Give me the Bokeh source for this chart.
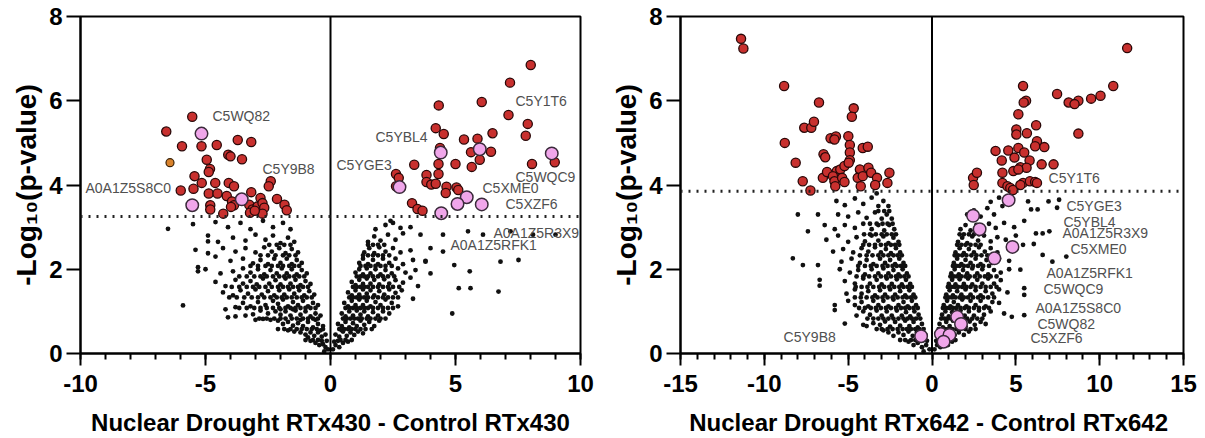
from bokeh.plotting import figure
from bokeh.layouts import row
from bokeh.models import Span, Range1d, FixedTicker
from bokeh.core.properties import value
from bokeh.embed import file_html
from bokeh.resources import INLINE

# ---------------- Panel 1: Nuclear Drought RTx430 - Control RTx430 ----------------
p1_xlabel = "Nuclear Drought RTx430 - Control RTx430"
p1_xticks = [-10, -5, 0, 5, 10]
p1_threshold = 3.25

p1_sig = [(-5.53, 5.62), (-6.57, 5.27), (-5.94, 4.92), (-5.16, 4.92), (-4.55, 4.95), (-3.71, 5.07),
          (-3.17, 5.02), (-4.95, 4.6), (-4.09, 4.72), (-4.0, 4.68), (-3.54, 4.61), (-4.82, 4.38),
          (-4.87, 4.31), (-5.44, 4.21), (-5.15, 4.05), (-4.61, 4.05), (-4.07, 4.05), (-3.86, 3.97),
          (-5.99, 3.87), (-5.48, 3.91), (-4.87, 3.8), (-4.52, 3.8), (-4.15, 3.74), (-3.17, 3.83),
          (-2.39, 4.09), (-2.47, 3.97), (-4.81, 3.52), (-4.81, 3.42), (-4.29, 3.32), (-3.94, 3.61),
          (-3.86, 3.52), (-3.98, 3.48), (-3.25, 3.53), (-3.12, 3.42), (-2.92, 3.49), (-2.8, 3.69),
          (-2.72, 3.57), (-2.65, 3.46), (-2.72, 3.32), (-3.22, 3.34), (-2.14, 3.67), (-1.84, 3.53),
          (-1.75, 3.4), (-3.03, 3.39),
          (8.01, 6.85), (7.18, 6.43), (4.33, 5.89), (6.05, 5.97), (7.12, 5.66), (7.89, 5.45),
          (4.21, 5.35), (4.53, 5.21), (5.34, 5.08), (5.88, 5.1), (6.48, 5.23), (7.81, 5.17),
          (5.62, 4.78), (6.42, 4.79), (4.38, 4.88), (5.97, 4.6), (5.65, 4.43), (5.0, 4.5),
          (4.32, 4.5), (3.35, 4.48), (3.84, 4.24), (4.32, 4.26), (8.06, 4.5), (8.97, 4.54),
          (2.62, 4.26), (2.73, 4.17), (3.84, 4.07), (4.03, 4.01), (4.21, 4.03), (4.64, 3.96),
          (4.61, 3.81), (5.04, 3.94), (5.11, 3.88), (2.62, 3.97), (3.26, 3.57), (3.48, 3.43),
          (3.68, 3.39)]
p1_hl = [(-5.16, 5.22), (-5.53, 3.52), (-3.55, 3.66), (4.41, 4.77), (5.97, 4.85), (8.85, 4.75),
         (2.76, 3.95), (5.45, 3.71), (5.08, 3.55), (6.05, 3.54), (4.43, 3.33)]
p1_other = [(-6.42, 4.53)]
p1_names = ["C5WQ82", "C5Y9B8", "A0A1Z5S8C0", "C5Y1T6", "C5YBL4", "C5YGE3", "C5WQC9",
            "C5XME0", "C5XZF6", "A0A1Z5R3X9", "A0A1Z5RFK1"]
p1_name_x = [-4.72, -2.72, -9.8, 7.4, 1.8, 0.24, 7.4, 6.08, 7.0, 6.52, 4.8]
p1_name_y = [5.63, 4.37, 3.94, 5.99, 5.15, 4.47, 4.18, 3.94, 3.56, 2.87, 2.57]

p1_dots = [
    (-0.1, 0.1), (-0.2, 0.15), (-0.3, 0.22), (-0.45, 0.2), (-0.6, 0.25), (-0.15, 0.3), (-0.35, 0.3), (-0.8, 0.3), (-0.25, 0.05),
    (-0.2, 0.45), (-0.35, 0.4), (-0.5, 0.5), (-0.65, 0.42), (-0.8, 0.5), (-1.0, 0.45), (-1.2, 0.5), (-1.45, 0.52), (-0.9, 0.38), (-0.4, 0.55), (-1.7, 0.55),
    (-0.3, 0.65), (-0.5, 0.7), (-0.7, 0.62), (-0.9, 0.75), (-1.1, 0.65), (-1.3, 0.72), (-1.5, 0.66), (-1.7, 0.75), (-1.9, 0.7), (-2.1, 0.78), (-2.4, 0.8), (-2.7, 0.82), (-3.0, 0.8), (-1.2, 0.8), (-0.6, 0.8),
    (-0.4, 0.9), (-0.6, 0.95), (-0.8, 0.88), (-1.0, 1.0), (-1.2, 0.92), (-1.4, 1.02), (-1.6, 0.9), (-1.8, 1.0), (-2.0, 0.92), (-2.2, 1.0), (-2.5, 0.95), (-2.8, 1.02), (-3.1, 0.93), (-3.4, 0.9), (-3.8, 0.88), (-4.1, 0.86), (-1.5, 1.05),
    (-0.5, 1.15), (-0.7, 1.2), (-0.9, 1.12), (-1.1, 1.25), (-1.3, 1.15), (-1.5, 1.22), (-1.7, 1.12), (-1.9, 1.28), (-2.1, 1.18), (-2.3, 1.25), (-2.6, 1.15), (-2.9, 1.22), (-3.2, 1.12), (-3.5, 1.2), (-3.8, 1.1), (-4.2, 1.05), (-2.0, 1.05),
    (-0.65, 1.4), (-0.85, 1.48), (-1.05, 1.38), (-1.25, 1.5), (-1.45, 1.42), (-1.65, 1.52), (-1.85, 1.4), (-2.05, 1.5), (-2.25, 1.38), (-2.5, 1.48), (-2.75, 1.4), (-3.0, 1.52), (-3.3, 1.42), (-3.6, 1.5), (-3.9, 1.38), (-4.3, 1.45),
    (-0.8, 1.65), (-1.0, 1.72), (-1.2, 1.62), (-1.4, 1.75), (-1.6, 1.66), (-1.8, 1.78), (-2.0, 1.64), (-2.2, 1.74), (-2.45, 1.66), (-2.7, 1.78), (-2.95, 1.64), (-3.2, 1.72), (-3.5, 1.66), (-3.8, 1.75), (-4.2, 1.6), (-4.6, 1.7),
    (-0.95, 1.9), (-1.15, 1.98), (-1.35, 1.88), (-1.55, 2.0), (-1.75, 1.9), (-1.95, 2.02), (-2.15, 1.9), (-2.4, 1.98), (-2.65, 1.88), (-2.9, 2.0), (-3.2, 1.92), (-3.5, 2.02), (-3.9, 1.95), (-4.4, 1.9), (-5.0, 2.0),
    (-1.15, 2.15), (-1.35, 2.22), (-1.55, 2.12), (-1.75, 2.25), (-2.0, 2.15), (-2.25, 2.25), (-2.5, 2.12), (-2.8, 2.22), (-3.1, 2.14), (-3.5, 2.25), (-4.0, 2.2), (-4.6, 2.3),
    (-1.3, 2.4), (-1.55, 2.48), (-1.8, 2.38), (-2.05, 2.5), (-2.35, 2.42), (-2.65, 2.52), (-3.0, 2.4), (-3.4, 2.5), (-3.8, 2.42), (-4.3, 2.5), (-4.9, 2.38), (-5.4, 2.46),
    (-1.45, 2.65), (-1.7, 2.75), (-2.0, 2.62), (-2.3, 2.8), (-2.6, 2.7), (-3.0, 2.82), (-3.4, 2.68), (-3.9, 2.75), (-4.5, 2.65), (-4.9, 2.8),
    (-1.6, 2.95), (-1.9, 3.1), (-2.3, 3.0), (-2.7, 3.15), (-3.2, 2.95), (-3.6, 3.1), (-4.1, 3.0), (-4.6, 3.12), (-5.5, 3.07), (-6.5, 2.96),
    (-5.9, 1.14), (-5.3, 2.05), (-5.3, 1.95), (-4.9, 2.66),
    (0.1, 0.1), (0.2, 0.2), (0.35, 0.15), (0.5, 0.25), (0.3, 0.3), (0.7, 0.28), (0.15, 0.28),
    (0.2, 0.45), (0.35, 0.4), (0.5, 0.52), (0.65, 0.42), (0.8, 0.5), (0.95, 0.44), (1.1, 0.52), (1.3, 0.48), (0.45, 0.55),
    (0.3, 0.7), (0.45, 0.65), (0.6, 0.75), (0.75, 0.62), (0.9, 0.72), (1.05, 0.65), (1.2, 0.78), (1.35, 0.68), (1.55, 0.75), (1.75, 0.65), (1.95, 0.78),
    (0.45, 0.95), (0.6, 0.88), (0.75, 1.0), (0.9, 0.9), (1.05, 1.02), (1.2, 0.92), (1.35, 1.0), (1.5, 0.88), (1.7, 0.98), (1.9, 0.9), (2.1, 1.0), (2.35, 0.95),
    (0.55, 1.2), (0.7, 1.12), (0.85, 1.25), (1.0, 1.15), (1.15, 1.28), (1.3, 1.15), (1.45, 1.25), (1.6, 1.12), (1.8, 1.22), (2.0, 1.15), (2.2, 1.28), (2.45, 1.2), (2.7, 1.12),
    (0.7, 1.45), (0.85, 1.38), (1.0, 1.5), (1.15, 1.4), (1.3, 1.52), (1.45, 1.42), (1.6, 1.5), (1.75, 1.38), (1.95, 1.48), (2.15, 1.4), (2.35, 1.52), (2.6, 1.44), (2.85, 1.5),
    (0.85, 1.7), (1.0, 1.62), (1.15, 1.75), (1.3, 1.65), (1.45, 1.78), (1.6, 1.66), (1.75, 1.75), (1.95, 1.64), (2.15, 1.76), (2.35, 1.66), (2.6, 1.74), (2.9, 1.68), (3.2, 1.8),
    (1.0, 1.92), (1.15, 2.0), (1.3, 1.88), (1.45, 2.02), (1.6, 1.9), (1.8, 2.0), (2.0, 1.88), (2.2, 1.98), (2.45, 1.9), (2.7, 2.02), (3.0, 1.92), (3.4, 1.98),
    (1.15, 2.15), (1.3, 2.25), (1.5, 2.12), (1.7, 2.22), (1.9, 2.12), (2.1, 2.25), (2.35, 2.15), (2.6, 2.25), (2.9, 2.12), (3.3, 2.22), (3.8, 2.18),
    (1.35, 2.4), (1.55, 2.5), (1.75, 2.38), (1.95, 2.52), (2.2, 2.42), (2.5, 2.5), (2.8, 2.4), (3.2, 2.45), (4.0, 2.5), (4.5, 2.42),
    (1.5, 2.65), (1.75, 2.78), (2.0, 2.68), (2.3, 2.82), (2.6, 2.7), (2.9, 2.85), (3.6, 2.82), (4.5, 2.82), (5.5, 2.9),
    (1.8, 2.95), (2.2, 3.05), (2.5, 3.1), (2.8, 2.98), (3.2, 3.0), (2.4, 3.15), (6.1, 2.82), (7.2, 2.9), (8.1, 2.82), (9.0, 2.82),
    (3.8, 2.2), (4.95, 2.1), (4.87, 0.95), (5.13, 1.55), (5.57, 1.95), (5.6, 1.55), (6.8, 2.18), (6.72, 1.47), (7.52, 2.22),
    (4.0, 1.9), (3.5, 1.6), (3.3, 1.3)]

# dense core of the cloud, read row by row: (y, [x values])
p1_core_rows = [
    (0.32, [-0.5, -0.7, -1.0, 0.4, 0.6, 0.85]),
    (0.58, [-0.3, -0.55, -0.75, -0.95, -1.15, -1.35, -1.6, -1.85, -2.1,
            0.35, 0.55, 0.7, 0.85, 1.0, 1.2, 1.4, 1.65]),
    (0.83, [-0.5, -0.7, -0.9, -1.1, -1.35, -1.55, -1.8, -2.0, -2.25, -2.55, -2.85,
            0.5, 0.65, 0.8, 0.95, 1.1, 1.25, 1.45, 1.6, 1.8, 2.0, 2.2]),
    (1.08, [-0.6, -0.8, -1.0, -1.2, -1.4, -1.6, -1.8, -2.05, -2.3, -2.55, -2.8, -3.05, -3.35, -3.65,
            0.6, 0.75, 0.9, 1.05, 1.2, 1.35, 1.5, 1.7, 1.9, 2.1, 2.3, 2.5]),
    (1.33, [-0.75, -0.95, -1.15, -1.35, -1.55, -1.75, -1.95, -2.15, -2.4, -2.65, -2.9, -3.15, -3.45, -3.75, -4.05,
            0.75, 0.9, 1.05, 1.2, 1.35, 1.5, 1.7, 1.9, 2.1, 2.3, 2.5, 2.7]),
    (1.58, [-0.9, -1.1, -1.3, -1.5, -1.7, -1.9, -2.1, -2.35, -2.6, -2.85, -3.1, -3.35, -3.65, -3.95,
            0.9, 1.05, 1.2, 1.35, 1.5, 1.7, 1.9, 2.1, 2.3, 2.5, 2.75]),
    (1.83, [-1.05, -1.25, -1.45, -1.65, -1.85, -2.05, -2.3, -2.55, -2.8, -3.05, -3.35, -3.65,
            1.05, 1.2, 1.35, 1.5, 1.7, 1.9, 2.1, 2.3, 2.55]),
    (2.08, [-1.25, -1.45, -1.65, -1.9, -2.1, -2.35, -2.6, -2.9, -3.2,
            1.2, 1.4, 1.6, 1.8, 2.0, 2.2, 2.45]),
    (2.33, [-1.4, -1.65, -1.9, -2.2, -2.5, -2.8, 1.3, 1.5, 1.7, 1.9, 2.1, 2.35]),
    (2.58, [-1.6, -1.85, -2.15, -2.45, 1.5, 1.7, 1.9, 2.15]),
]

# ---------------- Panel 2: Nuclear Drought RTx642 - Control RTx642 ----------------
p2_xlabel = "Nuclear  Drought RTx642 - Control RTx642"
p2_xticks = [-15, -10, -5, 0, 5, 10, 15]
p2_threshold = 3.85

p2_sig = [(-11.39, 7.47), (-11.25, 7.24), (-8.82, 6.35), (-6.74, 5.96), (-4.67, 5.82), (-4.78, 5.62),
          (-7.62, 5.36), (-7.2, 5.36), (-7.04, 5.5), (-6.05, 5.11), (-5.73, 5.15), (-4.99, 5.16),
          (-5.82, 5.08), (-8.78, 5.0), (-4.9, 4.95), (-4.13, 4.88), (-3.83, 4.91), (-8.13, 4.53),
          (-6.47, 4.73), (-6.37, 4.66), (-4.9, 4.77), (-4.9, 4.59), (-7.71, 4.09), (-7.25, 3.87),
          (-6.51, 4.17), (-6.26, 4.31), (-5.68, 4.33), (-5.91, 4.21), (-5.47, 4.37), (-5.22, 4.45),
          (-4.97, 4.53), (-5.82, 4.09), (-5.36, 4.17), (-5.77, 3.97), (-5.22, 4.07), (-4.3, 4.37),
          (-3.79, 4.41), (-4.43, 4.17), (-4.13, 4.21), (-3.63, 4.29), (-3.28, 4.17), (-2.54, 4.29),
          (-2.66, 4.05), (-4.25, 3.97), (-3.39, 4.0),
          (11.64, 7.25), (10.81, 6.35), (5.43, 6.35), (7.46, 6.16), (10.05, 6.12), (9.49, 6.05),
          (8.73, 6.0), (8.15, 5.96), (8.5, 5.92), (5.61, 6.0), (5.47, 5.96), (5.15, 5.68),
          (8.73, 5.22), (6.21, 5.42), (5.03, 5.32), (5.03, 5.2), (5.66, 5.23), (6.26, 5.04),
          (6.15, 4.92), (6.7, 4.9), (3.79, 4.81), (4.55, 4.82), (5.15, 4.88), (5.5, 4.77),
          (5.82, 4.58), (6.54, 4.49), (7.25, 4.49), (4.16, 4.58), (4.92, 4.65), (5.27, 4.42),
          (5.64, 4.41), (4.85, 4.33), (5.15, 4.37), (4.2, 4.29), (2.45, 4.17), (2.68, 4.29),
          (2.49, 4.0), (4.2, 4.05), (4.5, 3.97), (4.67, 3.93), (4.83, 3.88), (5.43, 4.05),
          (5.84, 4.09), (6.15, 4.07), (6.26, 4.05), (5.27, 4.0)]
p2_hl = [(4.57, 3.64), (2.45, 3.27), (2.84, 2.95), (4.8, 2.53), (3.72, 2.26), (1.5, 0.87),
         (1.73, 0.7), (0.53, 0.46), (1.04, 0.44), (0.69, 0.28), (-0.65, 0.41)]
p2_other = []
p2_names = ["C5Y1T6", "C5YGE3", "C5YBL4", "A0A1Z5R3X9", "C5XME0", "A0A1Z5RFK1", "C5WQC9",
            "A0A1Z5S8C0", "C5WQ82", "C5XZF6", "C5Y9B8"]
p2_name_x = [6.95, 8.02, 7.84, 7.78, 8.26, 6.83, 6.65, 6.17, 6.29, 5.87, -8.85]
p2_name_y = [4.16, 3.49, 3.11, 2.85, 2.47, 1.92, 1.52, 1.09, 0.69, 0.36, 0.4]

p2_dots = [
    (-0.15, 0.1), (-0.35, 0.2), (-0.6, 0.15), (-0.85, 0.25), (-1.1, 0.2), (-0.3, 0.3), (-1.4, 0.28), (-0.5, 0.05),
    (-0.4, 0.45), (-0.65, 0.38), (-0.9, 0.5), (-1.15, 0.42), (-1.4, 0.52), (-1.7, 0.44), (-2.0, 0.5), (-2.3, 0.42), (-2.6, 0.5), (-2.9, 0.55),
    (-0.6, 0.7), (-0.85, 0.62), (-1.1, 0.75), (-1.35, 0.65), (-1.6, 0.78), (-1.9, 0.66), (-2.2, 0.75), (-2.5, 0.64), (-2.8, 0.76), (-3.1, 0.68), (-3.5, 0.72), (-3.9, 0.65), (-4.1, 0.68), (-5.2, 0.71),
    (-0.8, 0.92), (-1.05, 1.0), (-1.3, 0.88), (-1.55, 0.98), (-1.8, 0.9), (-2.1, 1.02), (-2.4, 0.9), (-2.7, 1.0), (-3.0, 0.9), (-3.3, 1.02), (-3.7, 0.92), (-4.1, 1.0), (-4.5, 0.9),
    (-0.95, 1.15), (-1.2, 1.25), (-1.45, 1.12), (-1.7, 1.22), (-2.0, 1.15), (-2.3, 1.28), (-2.6, 1.12), (-2.9, 1.25), (-3.2, 1.15), (-3.5, 1.25), (-3.8, 1.12), (-4.2, 1.22), (-4.6, 1.15), (-5.0, 1.25), (-5.8, 1.15), (-5.8, 1.03),
    (-1.1, 1.4), (-1.35, 1.5), (-1.6, 1.38), (-1.9, 1.48), (-2.2, 1.4), (-2.5, 1.52), (-2.8, 1.4), (-3.1, 1.5), (-3.4, 1.38), (-3.8, 1.48), (-4.2, 1.42), (-4.6, 1.52), (-5.1, 1.42),
    (-1.3, 1.65), (-1.55, 1.75), (-1.8, 1.64), (-2.1, 1.76), (-2.4, 1.65), (-2.7, 1.78), (-3.0, 1.64), (-3.3, 1.75), (-3.7, 1.66), (-4.1, 1.78), (-4.6, 1.66), (-5.2, 1.72), (-6.7, 1.75), (-6.7, 1.61),
    (-1.5, 1.9), (-1.75, 2.0), (-2.0, 1.88), (-2.3, 1.98), (-2.6, 1.9), (-2.9, 2.02), (-3.2, 1.9), (-3.6, 2.0), (-4.0, 1.88), (-4.4, 1.98), (-4.9, 1.92), (-5.5, 2.0),
    (-1.7, 2.15), (-1.95, 2.25), (-2.2, 2.12), (-2.5, 2.22), (-2.8, 2.15), (-3.1, 2.25), (-3.5, 2.12), (-3.9, 2.22), (-4.3, 2.15), (-4.8, 2.25), (-5.4, 2.18), (-6.8, 2.1), (-7.7, 2.1), (-8.3, 2.26),
    (-1.9, 2.4), (-2.15, 2.5), (-2.45, 2.38), (-2.75, 2.48), (-3.05, 2.4), (-3.4, 2.52), (-3.8, 2.42), (-4.2, 2.5), (-4.7, 2.4), (-5.3, 2.48), (-5.9, 2.42),
    (-2.0, 2.65), (-2.3, 2.75), (-2.6, 2.62), (-2.9, 2.78), (-3.2, 2.68), (-3.6, 2.8), (-4.0, 2.66), (-4.5, 2.76), (-5.0, 2.65), (-5.6, 2.8), (-6.3, 2.7), (-7.4, 2.9),
    (-2.25, 2.95), (-2.55, 3.05), (-2.85, 2.92), (-3.2, 3.05), (-3.6, 2.95), (-4.1, 3.08), (-4.6, 2.98), (-5.2, 3.05), (-5.8, 2.95), (-6.4, 3.05),
    (-2.4, 3.2), (-2.7, 3.3), (-3.0, 3.2), (-3.4, 3.35), (-3.9, 3.22), (-4.4, 3.35), (-5.0, 3.25), (-5.6, 3.3), (-6.8, 3.3), (-8.0, 3.3),
    (-2.6, 3.5), (-2.9, 3.62), (-3.2, 3.5), (-3.6, 3.7), (-4.1, 3.55), (-4.6, 3.68), (-5.2, 3.52), (-5.7, 3.62), (-3.3, 3.8),
    (0.15, 0.1), (0.3, 0.2), (0.5, 0.15), (0.7, 0.25), (0.95, 0.2), (0.25, 0.3), (1.2, 0.28),
    (0.3, 0.45), (0.5, 0.38), (0.7, 0.5), (0.9, 0.42), (1.1, 0.52), (1.35, 0.44), (1.6, 0.5), (1.9, 0.44), (2.2, 0.52),
    (0.45, 0.7), (0.65, 0.62), (0.85, 0.75), (1.05, 0.65), (1.25, 0.78), (1.5, 0.66), (1.75, 0.75), (2.0, 0.64), (2.25, 0.76), (2.55, 0.68), (2.9, 0.75), (3.2, 0.7),
    (0.6, 0.92), (0.8, 1.0), (1.0, 0.88), (1.2, 0.98), (1.45, 0.9), (1.7, 1.02), (1.95, 0.9), (2.2, 1.0), (2.5, 0.9), (2.8, 1.02), (3.1, 0.92), (3.5, 1.0), (4.76, 0.87), (5.5, 0.91), (4.3, 0.95),
    (0.7, 1.15), (0.9, 1.25), (1.1, 1.12), (1.3, 1.22), (1.55, 1.15), (1.8, 1.28), (2.05, 1.12), (2.3, 1.25), (2.6, 1.15), (2.9, 1.25), (3.2, 1.12), (3.6, 1.22), (4.0, 1.2),
    (0.85, 1.4), (1.05, 1.5), (1.25, 1.38), (1.5, 1.48), (1.75, 1.4), (2.0, 1.52), (2.3, 1.4), (2.6, 1.5), (2.9, 1.38), (3.2, 1.48), (3.6, 1.42), (4.0, 1.52), (5.5, 1.39), (5.5, 1.55), (4.5, 1.45),
    (1.0, 1.65), (1.2, 1.75), (1.4, 1.64), (1.65, 1.76), (1.9, 1.65), (2.15, 1.78), (2.4, 1.64), (2.7, 1.75), (3.0, 1.66), (3.35, 1.78), (3.7, 1.66), (4.1, 1.74),
    (1.15, 1.9), (1.35, 2.0), (1.6, 1.88), (1.85, 1.98), (2.1, 1.9), (2.4, 2.02), (2.7, 1.9), (3.0, 2.0), (3.35, 1.88), (3.7, 1.98), (4.1, 1.92), (5.27, 1.99), (4.6, 2.0),
    (1.3, 2.15), (1.5, 2.25), (1.75, 2.12), (2.0, 2.22), (2.3, 2.15), (2.6, 2.25), (2.9, 2.12), (3.25, 2.22), (3.6, 2.15), (4.0, 2.25), (7.18, 2.18), (8.01, 2.3), (6.6, 2.34), (4.6, 2.2),
    (1.4, 2.4), (1.65, 2.5), (1.9, 2.38), (2.2, 2.48), (2.5, 2.4), (2.8, 2.52), (3.15, 2.42), (3.5, 2.5), (3.9, 2.4), (5.43, 2.58), (6.07, 2.6),
    (1.55, 2.65), (1.8, 2.75), (2.1, 2.62), (2.4, 2.78), (2.75, 2.68), (3.1, 2.8), (3.5, 2.66), (3.9, 2.76), (4.4, 2.7), (5.0, 2.8), (6.2, 2.85), (6.6, 2.85), (7.0, 2.9),
    (1.7, 2.95), (2.0, 3.05), (2.3, 2.92), (2.65, 3.05), (3.0, 2.95), (3.4, 3.08), (3.8, 2.98), (4.3, 3.1), (4.9, 3.0), (5.5, 3.15),
    (2.1, 3.3), (2.5, 3.4), (2.9, 3.25), (3.3, 3.45), (3.7, 3.3), (4.2, 3.5), (4.0, 3.7), (5.91, 3.42), (5.73, 3.61), (6.95, 3.61), (7.46, 3.46), (7.58, 3.65), (6.3, 3.42), (3.5, 3.6)]

p2_core_rows = [
    (0.32, [-0.5, -0.75, -1.0, -1.25, -1.6, -1.9, 0.4, 0.6, 0.85, 1.1, 1.4]),
    (0.58, [-0.5, -0.75, -1.0, -1.25, -1.5, -1.75, -2.05, -2.35, -2.65, -3.0, -3.3,
            0.4, 0.6, 0.8, 1.0, 1.2, 1.45, 1.7, 2.0, 2.3, 2.6]),
    (0.83, [-0.7, -0.95, -1.2, -1.45, -1.7, -2.0, -2.3, -2.6, -2.9, -3.2, -3.5, -3.85,
            0.55, 0.75, 0.95, 1.15, 1.35, 1.6, 1.85, 2.1, 2.4, 2.7, 3.0]),
    (1.08, [-0.85, -1.1, -1.35, -1.6, -1.85, -2.15, -2.45, -2.75, -3.05, -3.35, -3.65, -4.0, -4.35,
            0.65, 0.85, 1.05, 1.25, 1.45, 1.7, 1.95, 2.2, 2.5, 2.8, 3.1, 3.4]),
    (1.33, [-1.0, -1.25, -1.5, -1.75, -2.05, -2.35, -2.65, -2.95, -3.25, -3.55, -3.9, -4.25, -4.6,
            0.8, 1.0, 1.2, 1.4, 1.65, 1.9, 2.15, 2.45, 2.75, 3.05, 3.35, 3.7]),
    (1.58, [-1.2, -1.45, -1.7, -1.95, -2.25, -2.55, -2.85, -3.15, -3.5, -3.85, -4.2, -4.55,
            0.95, 1.15, 1.35, 1.55, 1.8, 2.05, 2.3, 2.6, 2.9, 3.2, 3.5, 3.85]),
    (1.83, [-1.4, -1.65, -1.9, -2.15, -2.45, -2.75, -3.05, -3.4, -3.75, -4.1, -4.5,
            1.1, 1.3, 1.5, 1.75, 2.0, 2.25, 2.55, 2.85, 3.15, 3.5, 3.85]),
    (2.08, [-1.6, -1.85, -2.1, -2.35, -2.65, -2.95, -3.3, -3.65, -4.0, -4.4,
            1.25, 1.45, 1.65, 1.9, 2.15, 2.45, 2.75, 3.05, 3.4]),
    (2.33, [-1.8, -2.05, -2.3, -2.6, -2.9, -3.2, -3.55, -3.9, -4.3,
            1.35, 1.55, 1.8, 2.05, 2.35, 2.65, 2.95, 3.3]),
    (2.58, [-1.95, -2.2, -2.45, -2.75, -3.05, -3.4, -3.75, -4.1, 1.5, 1.75, 2.0, 2.3, 2.6, 2.9]),
    (2.83, [-2.15, -2.4, -2.7, -3.0, -3.35, -3.7, -4.05, 1.65, 1.9, 2.2, 2.5, 2.8]),
    (3.08, [-2.35, -2.65, -2.95, -3.3, -3.7]),
    (3.38, [-2.55, -2.85, -3.2]),
]

y_ticks = [0, 2, 4, 6, 8]
y_label = "-Log\u2081\u2080(p-value)"
FONT = "Liberation Sans"


def xs(pairs):
    return [p[0] for p in pairs]


def ys(pairs):
    return [p[1] for p in pairs]


def rows_to_pairs(rows):
    return [(x, y) for y, xl in rows for x in xl]


def make_panel(xlim, xticks, threshold, dots, core_rows, sig, hl, other, names, nx, ny,
               xlabel, width, border_left, border_right):
    p = figure(width=width, height=438, output_backend="svg", toolbar_location=None,
               x_range=Range1d(-xlim, xlim), y_range=Range1d(0, 8),
               min_border_left=border_left, min_border_right=border_right,
               min_border_top=16, min_border_bottom=85)
    p.background_fill_color = "white"
    p.border_fill_color = "white"
    p.outline_line_color = "black"
    p.outline_line_width = 2
    p.xgrid.visible = False
    p.ygrid.visible = False

    p.xaxis.ticker = FixedTicker(ticks=xticks, minor_ticks=list(range(-xlim, xlim + 1)))
    p.xaxis.major_label_overrides = {t: str(t) for t in xticks}
    p.yaxis.ticker = FixedTicker(ticks=y_ticks, minor_ticks=[])
    p.yaxis.major_label_overrides = {t: str(t) for t in y_ticks}
    for ax in (p.xaxis[0], p.yaxis[0]):
        ax.axis_line_width = 2
        ax.axis_line_color = "black"
        ax.major_tick_line_width = 2
        ax.minor_tick_line_width = 2
        ax.major_tick_in = 0
        ax.minor_tick_in = 0
        ax.major_label_text_font = FONT
        ax.major_label_text_font_style = "bold"
        ax.major_label_text_font_size = "24px"
        ax.major_label_text_color = "black"
        ax.axis_label_text_font = FONT
        ax.axis_label_text_font_style = "bold"
        ax.axis_label_text_color = "black"
    p.xaxis.major_tick_out = 12
    p.xaxis.minor_tick_out = 6
    p.yaxis.major_tick_out = 14
    p.xaxis.major_label_standoff = 9
    p.yaxis.major_label_standoff = 4
    p.xaxis.axis_label = xlabel
    p.xaxis.axis_label_text_font_size = "24px"
    p.xaxis.axis_label_standoff = 14
    p.yaxis.axis_label = y_label
    p.yaxis.axis_label_text_font_size = "28px"
    p.yaxis.axis_label_standoff = 4

    p.add_layout(Span(location=0, dimension="height", line_color="black", line_width=2))
    p.add_layout(Span(location=threshold, dimension="width", line_color="#222222",
                      line_width=3, line_dash="2 6"))

    allp = dots + rows_to_pairs(core_rows)
    p.scatter(xs(allp), ys(allp), size=4.8, marker="circle", fill_color="#111111",
              line_color="#111111", line_width=0)
    p.scatter(xs(sig), ys(sig), size=9.2, marker="circle", fill_color="#c8302e",
              line_color="#2a0808", line_width=1.3)
    if other:
        p.scatter(xs(other), ys(other), size=8, marker="circle", fill_color="#d9822b",
                  line_color="#3a2208", line_width=1.2)
    p.scatter(xs(hl), ys(hl), size=12.5, marker="circle", fill_color="#f0a6ea",
              line_color="#3a2a3a", line_width=1.5)
    p.text(x=nx, y=ny, text=names, text_font=value(FONT), text_font_size="14px",
           text_color="#505050", text_baseline="middle", text_align="left")
    return p


p1 = make_panel(10, p1_xticks, p1_threshold, p1_dots, p1_core_rows, p1_sig, p1_hl, p1_other,
                p1_names, p1_name_x, p1_name_y, p1_xlabel, 600, 80, 20)
p2 = make_panel(15, p2_xticks, p2_threshold, p2_dots, p2_core_rows, p2_sig, p2_hl, p2_other,
                p2_names, p2_name_x, p2_name_y, p2_xlabel, 604, 80, 21)

layout = row(p1, p2)
open("out.html", "w").write(file_html(layout, INLINE))
